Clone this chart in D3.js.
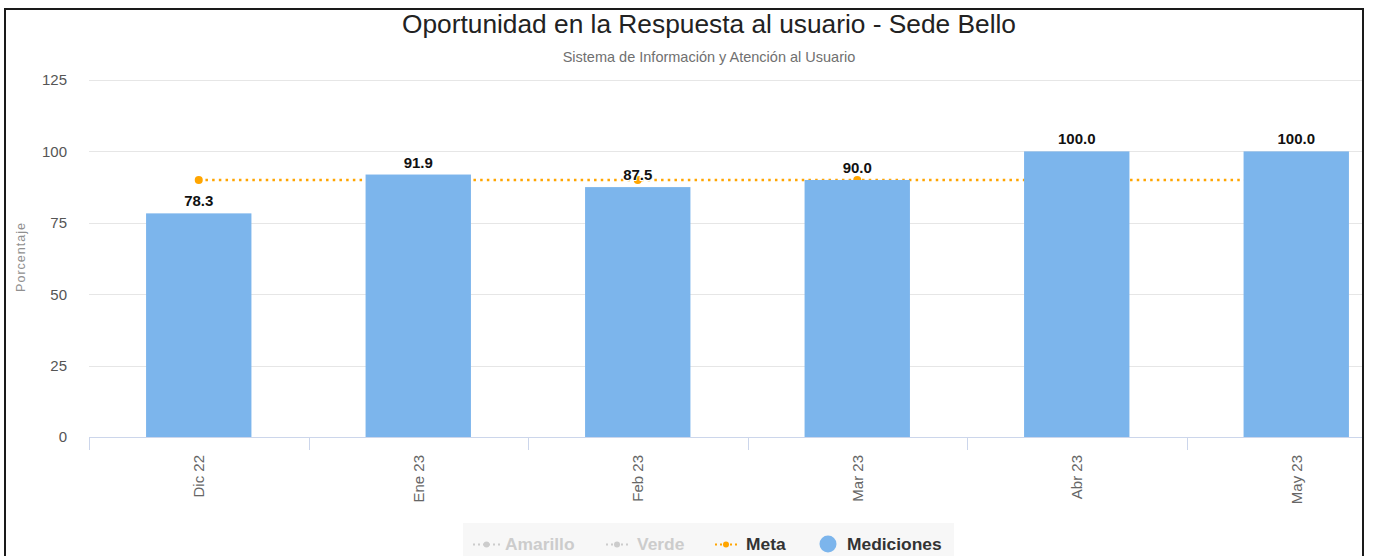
<!DOCTYPE html>
<html>
<head>
<meta charset="utf-8">
<script src="https://cdn.jsdelivr.net/npm/d3@7"></script>
<style>
  body { margin: 0; background: #fff; }
  svg { display: block; font-family: "Liberation Sans", Arial, sans-serif; }
</style>
</head>
<body>
<svg id="grafico" width="1373" height="556"></svg>
<script>
// datos del grafico
var categorias = ["Dic 22", "Ene 23", "Feb 23", "Mar 23", "Abr 23", "May 23"];
var mediciones = [78.3, 91.9, 87.5, 90.0, 100.0, 100.0];
var meta = [90, 90, 90, 90, 90, 90];
var ticksY = [0, 25, 50, 75, 100, 125];
var leyenda = ["Amarillo", "Verde", "Meta", "Mediciones"];
var leyendaActiva = [false, false, true, true];

var titulo = "Oportunidad en la Respuesta al usuario - Sede Bello";
var subtitulo = "Sistema de Información y Atención al Usuario";

var svg = d3.select("svg#grafico");

var margin = {top: 80, left: 89, right: 1406, bottom: 437};

// recorte del marco
svg.append("defs").append("clipPath").attr("id", "marco")
    .append("rect").attr("x", 6).attr("y", 10).attr("width", 1356).attr("height", 560);

var g = svg.append("g").attr("clip-path", "url(#marco)");

var x = d3.scaleBand()
    .domain(categorias)
    .range([margin.left, margin.right])
    .paddingInner(0.52)
    .paddingOuter(0.26);

var xSlot = d3.scaleBand()
    .domain(categorias)
    .range([margin.left, margin.right])
    .padding(0);

var y = d3.scaleLinear()
    .domain([0, 125])
    .range([margin.bottom, margin.top]);

// titulos
g.append("text")
    .attr("x", 709).attr("y", 33)
    .attr("text-anchor", "middle")
    .attr("font-size", "26.3px")
    .attr("fill", "#222")
    .text(titulo);

g.append("text")
    .attr("x", 709).attr("y", 62)
    .attr("text-anchor", "middle")
    .attr("font-size", "14.5px")
    .attr("fill", "#707070")
    .text(subtitulo);

// grilla
g.selectAll(".grilla")
    .data(ticksY.filter(function (d) { return d > 0; }))
    .enter()
    .append("line")
    .attr("class", "grilla")
    .attr("x1", margin.left).attr("x2", margin.right)
    .attr("y1", function (d) { return Math.round(y(d)) + 0.5; })
    .attr("y2", function (d) { return Math.round(y(d)) + 0.5; })
    .attr("stroke", "#e6e6e6")
    .attr("stroke-width", 1);

// eje y
var ejeY = g.append("g")
    .attr("transform", "translate(" + margin.left + ",0)")
    .call(d3.axisLeft(y).tickValues(ticksY).tickSize(0).tickPadding(22));
ejeY.select(".domain").remove();
ejeY.selectAll("text")
    .attr("font-family", "Liberation Sans, Arial, sans-serif")
    .attr("font-size", "15px")
    .attr("fill", "#555");

g.append("text")
    .attr("transform", "translate(25,257)rotate(-90)")
    .attr("text-anchor", "middle")
    .attr("font-size", "12.5px")
    .attr("letter-spacing", "1px")
    .attr("fill", "#909090")
    .text("Porcentaje");

// linea de meta (detras de las barras)
var lineaMeta = d3.line()
    .x(function (d, i) { return x(categorias[i]) + x.bandwidth() / 2; })
    .y(function (d) { return y(d); });

g.append("path")
    .datum(meta)
    .attr("d", lineaMeta)
    .attr("fill", "none")
    .attr("stroke", "#ffa500")
    .attr("stroke-width", 2.5)
    .attr("stroke-dasharray", "2.5,4.2");

g.selectAll(".puntoMeta")
    .data(meta)
    .enter()
    .append("circle")
    .attr("class", "puntoMeta")
    .attr("cx", function (d, i) { return x(categorias[i]) + x.bandwidth() / 2; })
    .attr("cy", function (d) { return y(d); })
    .attr("r", 4)
    .attr("fill", "#ffa500");

// barras
g.selectAll(".bar")
    .data(mediciones)
    .enter()
    .append("rect")
    .attr("class", "bar")
    .attr("x", function (d, i) { return x(categorias[i]); })
    .attr("y", function (d) { return y(d); })
    .attr("width", x.bandwidth())
    .attr("height", function (d) { return y(0) - y(d); })
    .attr("fill", "#7cb5ec");

// eje x
g.append("line")
    .attr("x1", margin.left).attr("x2", margin.right)
    .attr("y1", margin.bottom + 0.5).attr("y2", margin.bottom + 0.5)
    .attr("stroke", "#ccd6eb");

g.selectAll(".tickX")
    .data(categorias.concat(["fin"]))
    .enter()
    .append("line")
    .attr("class", "tickX")
    .attr("x1", function (d, i) { return Math.round(margin.left + i * xSlot.step()) + 0.5; })
    .attr("x2", function (d, i) { return Math.round(margin.left + i * xSlot.step()) + 0.5; })
    .attr("y1", margin.bottom).attr("y2", margin.bottom + 13)
    .attr("stroke", "#ccd6eb");

g.selectAll(".etiquetaX")
    .data(categorias)
    .enter()
    .append("text")
    .attr("class", "etiquetaX")
    .attr("transform", function (d) {
        return "translate(" + (x(d) + x.bandwidth() / 2) + ",455)rotate(-90)";
    })
    .attr("dy", "0.35em")
    .attr("text-anchor", "end")
    .attr("font-size", "15px")
    .attr("fill", "#666")
    .text(function (d) { return d; });

// etiquetas de datos
g.selectAll(".etiqueta")
    .data(mediciones)
    .enter()
    .append("text")
    .attr("class", "etiqueta")
    .attr("x", function (d, i) { return x(categorias[i]) + x.bandwidth() / 2; })
    .attr("y", function (d) { return y(d) - 7; })
    .attr("text-anchor", "middle")
    .attr("font-size", "15px")
    .attr("font-weight", "bold")
    .attr("fill", "#111")
    .attr("stroke", "#fff")
    .attr("stroke-width", 2)
    .attr("stroke-linejoin", "round")
    .attr("paint-order", "stroke")
    .text(function (d) { return d.toFixed(1); });

// leyenda
g.append("rect")
    .attr("x", 463).attr("y", 523)
    .attr("width", 491).attr("height", 60)
    .attr("fill", "#f7f7f7");

var posLeyenda = [473, 606, 715, 818];
var itemLeyenda = g.selectAll(".leyenda")
    .data(leyenda)
    .enter()
    .append("g")
    .attr("class", "leyenda")
    .attr("transform", function (d, i) { return "translate(" + posLeyenda[i] + ",544)"; });

itemLeyenda.each(function (d, i) {
    var it = d3.select(this);
    var color = leyendaActiva[i] ? "#ffa500" : "#cccccc";
    if (d === "Mediciones") {
        it.append("circle").attr("cx", 10).attr("cy", 0).attr("r", 8.5)
            .attr("fill", "#7cb5ec");
        it.append("text").attr("x", 29).attr("y", 6)
            .attr("font-size", "17.4px").attr("font-weight", "bold")
            .attr("fill", "#333").text(d);
    } else {
        var ancho = d === "Amarillo" ? 27 : 22;
        it.append("line").attr("x1", 0).attr("x2", ancho).attr("y1", 0.5).attr("y2", 0.5)
            .attr("stroke", color).attr("stroke-width", 2)
            .attr("stroke-dasharray", "2,3");
        it.append("circle").attr("cx", ancho / 2).attr("cy", 0.5).attr("r", 3)
            .attr("fill", color);
        it.append("text").attr("x", ancho + (d === "Amarillo" ? 5 : 9)).attr("y", 6)
            .attr("font-size", "17.4px").attr("font-weight", "bold")
            .attr("fill", leyendaActiva[i] ? "#333" : "#cccccc").text(d);
    }
});

// marco
svg.append("rect")
    .attr("x", 5).attr("y", 9)
    .attr("width", 1358).attr("height", 600)
    .attr("fill", "none")
    .attr("stroke", "#1a1a1a")
    .attr("stroke-width", 2);
</script>
</body>
</html>
